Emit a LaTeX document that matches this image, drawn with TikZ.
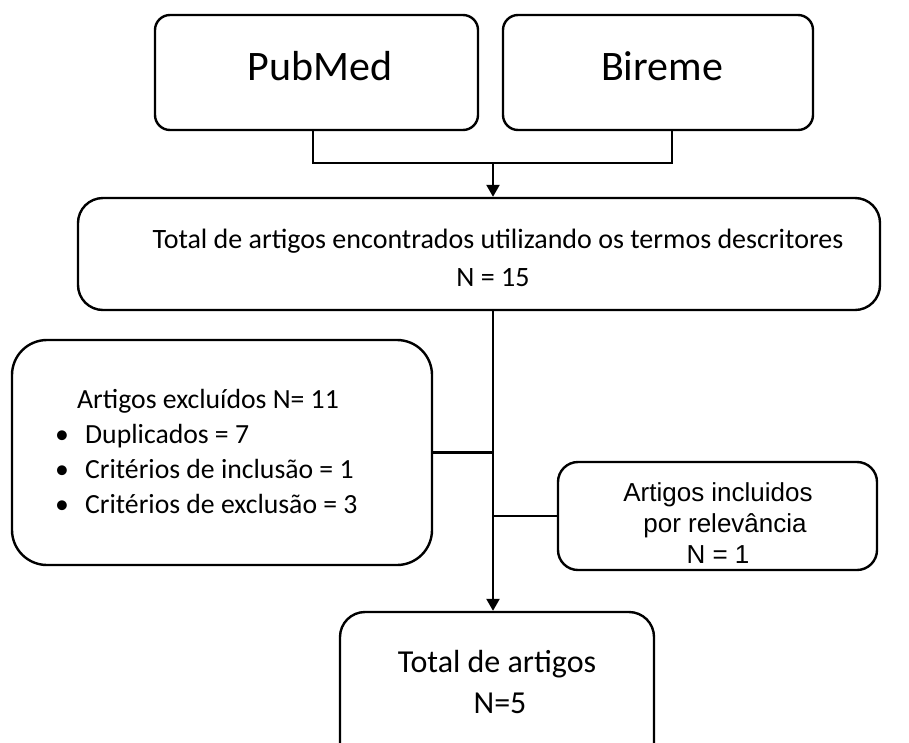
\documentclass[tikz,border=0pt]{standalone}
\usepackage{fontspec}
\setmainfont{Carlito}
\newfontfamily\arialfont{Liberation Sans}
\usetikzlibrary{arrows.meta}

\begin{document}
\begin{tikzpicture}[
    x=1pt, y=-1pt,
    box/.style={draw, line width=2.4pt, rounded corners=#1, inner sep=0pt},
    box/.default=15pt,
    line/.style={line width=2.4pt},
    arr/.style={line width=2.4pt, -{Triangle[length=12pt,width=13pt]}},
    txt/.style={inner sep=0pt}]
    \useasboundingbox (0,0) rectangle (909,742);
    \clip (0,0) rectangle (909,742);

    % Bases
    \node[box, minimum width=323pt, minimum height=115pt] (pubmed) at (316.5,72.5) {};
    \node[box, minimum width=310pt, minimum height=115pt] (bireme) at (658,72.5) {};
    \node[txt, font=\fontsize{42}{48}\selectfont, anchor=base] (pubmedtxt) at (320,80) {PubMed};
    \node[txt, font=\fontsize{42}{48}\selectfont, anchor=base] (biremetxt) at (662,80) {Bireme};

    % Total encontrados
    \node[box=25pt, minimum width=802pt, minimum height=112pt] (total) at (479,254) {};
    \node[txt, font=\fontsize{28}{32}\selectfont, anchor=base] (totaltxt) at (498,248)
        {Total de artigos encontrados utilizando os termos descritores};
    \node[txt, font=\fontsize{28}{32}\selectfont, anchor=base] (totaln) at (493,286) {N = 15};

    % Excluidos
    \node[box=35pt, minimum width=420pt, minimum height=225pt] (excl) at (222,452.5) {};
    \node[txt, font=\fontsize{27.7}{32}\selectfont, anchor=base west] (excltxt) at (77,408)
        {Artigos excluídos N= 11};
    \foreach \i/\t in {1/Duplicados = 7, 2/Critérios de inclusão = 1, 3/Critérios de exclusão = 3} {
        \node[txt, font=\fontsize{27.7}{32}\selectfont, anchor=base] (bul\i) at (62,408+35*\i) {\textbullet};
        \node[txt, font=\fontsize{27.7}{32}\selectfont, anchor=base west] (item\i) at (85,408+35*\i) {\t};
    }

    % Incluidos
    \node[box=20pt, minimum width=319pt, minimum height=108pt] (incl) at (717.5,516) {};
    \node[txt, font=\arialfont\fontsize{26}{31}\selectfont, align=center] (incltxt) at (718,523)
        {Artigos incluidos\\\hspace*{14pt}por relevância\\N = 1};

    % Final
    \node[box=25pt, minimum width=314pt, minimum height=156pt] (final) at (497,690) {};
    \node[txt, font=\fontsize{32}{38}\selectfont, anchor=base] (finaltxt) at (497,672) {Total de artigos};
    \node[txt, font=\fontsize{32}{38}\selectfont, anchor=base] (finaln) at (500,713) {N=5};

    % Verbindungen
    \coordinate (join) at (493,163);
    \draw[line] (pubmed.south -| 313,0) |- (join) -| (bireme.south -| 672,0);
    \draw[arr] (join) -- (total.north -| join);
    \draw[arr] (total.south -| join) -- (final.north -| join);
    \draw[line] (excl.east) -- (excl.east -| join);
    \draw[line] (incl.west) -- (incl.west -| join);
\end{tikzpicture}
\end{document}
